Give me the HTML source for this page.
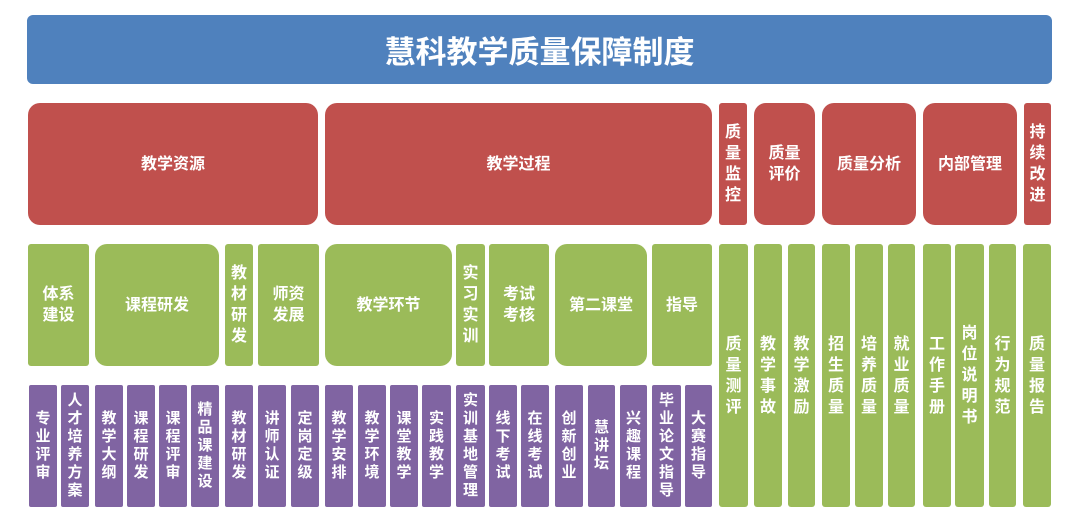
<!DOCTYPE html>
<html><head><meta charset="utf-8"><style>
body{margin:0;width:1080px;height:519px;background:#fff;position:relative;overflow:hidden;font-family:"Liberation Sans","Noto Sans CJK SC",sans-serif;}
.b{position:absolute;color:#fff;font-weight:bold;display:flex;align-items:center;justify-content:center;text-align:center;box-sizing:border-box;}
.r{background:#c0504d;font-size:16px;line-height:21px;border-radius:3px;}
.g{background:#9bbb59;font-size:16px;line-height:21px;border-radius:3px;}
.p{background:#8064a2;font-size:15px;line-height:18px;border-radius:2px;top:385px;height:122px;}
.rr{border-radius:12px;}
</style></head><body>
<div class="b" style="left:27px;top:15px;width:1025px;height:69px;background:#4f81bd;border-radius:6px;font-size:31px;">慧科教学质量保障制度</div>

<div class="b r rr" style="left:28px;top:103px;width:290px;height:122px;">教学资源</div>
<div class="b r rr" style="left:325px;top:103px;width:387px;height:122px;">教学过程</div>
<div class="b r" style="left:719px;top:103px;width:28px;height:122px;">质<br>量<br>监<br>控</div>
<div class="b r rr" style="left:754px;top:103px;width:61px;height:122px;">质量<br>评价</div>
<div class="b r rr" style="left:822px;top:103px;width:94px;height:122px;">质量分析</div>
<div class="b r rr" style="left:923px;top:103px;width:94px;height:122px;">内部管理</div>
<div class="b r" style="left:1024px;top:103px;width:27px;height:122px;">持<br>续<br>改<br>进</div>

<div class="b g" style="left:28px;top:244px;width:61px;height:122px;">体系<br>建设</div>
<div class="b g rr" style="left:95px;top:244px;width:124px;height:122px;">课程研发</div>
<div class="b g" style="left:225px;top:244px;width:28px;height:122px;">教<br>材<br>研<br>发</div>
<div class="b g" style="left:258px;top:244px;width:61px;height:122px;">师资<br>发展</div>
<div class="b g rr" style="left:325px;top:244px;width:127px;height:122px;">教学环节</div>
<div class="b g" style="left:456px;top:244px;width:29px;height:122px;">实<br>习<br>实<br>训</div>
<div class="b g" style="left:489px;top:244px;width:60px;height:122px;">考试<br>考核</div>
<div class="b g rr" style="left:555px;top:244px;width:92px;height:122px;">第二课堂</div>
<div class="b g" style="left:652px;top:244px;width:60px;height:122px;">指导</div>

<div class="b g" style="left:719px;top:244px;width:29px;height:263px;">质<br>量<br>测<br>评</div>
<div class="b g" style="left:754px;top:244px;width:28px;height:263px;">教<br>学<br>事<br>故</div>
<div class="b g" style="left:788px;top:244px;width:27px;height:263px;">教<br>学<br>激<br>励</div>
<div class="b g" style="left:822px;top:244px;width:28px;height:263px;">招<br>生<br>质<br>量</div>
<div class="b g" style="left:855px;top:244px;width:28px;height:263px;">培<br>养<br>质<br>量</div>
<div class="b g" style="left:888px;top:244px;width:27px;height:263px;">就<br>业<br>质<br>量</div>
<div class="b g" style="left:923px;top:244px;width:28px;height:263px;">工<br>作<br>手<br>册</div>
<div class="b g" style="left:955px;top:244px;width:29px;height:263px;">岗<br>位<br>说<br>明<br>书</div>
<div class="b g" style="left:989px;top:244px;width:27px;height:263px;">行<br>为<br>规<br>范</div>
<div class="b g" style="left:1023px;top:244px;width:28px;height:263px;">质<br>量<br>报<br>告</div>

<div class="b p" style="left:29px;width:28px;">专<br>业<br>评<br>审</div>
<div class="b p" style="left:61px;width:28px;">人<br>才<br>培<br>养<br>方<br>案</div>
<div class="b p" style="left:95px;width:28px;">教<br>学<br>大<br>纲</div>
<div class="b p" style="left:127px;width:28px;">课<br>程<br>研<br>发</div>
<div class="b p" style="left:159px;width:28px;">课<br>程<br>评<br>审</div>
<div class="b p" style="left:191px;width:28px;">精<br>品<br>课<br>建<br>设</div>
<div class="b p" style="left:225px;width:28px;">教<br>材<br>研<br>发</div>
<div class="b p" style="left:258px;width:28px;">讲<br>师<br>认<br>证</div>
<div class="b p" style="left:291px;width:28px;">定<br>岗<br>定<br>级</div>
<div class="b p" style="left:325px;width:28px;">教<br>学<br>安<br>排</div>
<div class="b p" style="left:358px;width:28px;">教<br>学<br>环<br>境</div>
<div class="b p" style="left:390px;width:28px;">课<br>堂<br>教<br>学</div>
<div class="b p" style="left:422px;width:29px;">实<br>践<br>教<br>学</div>
<div class="b p" style="left:456px;width:29px;">实<br>训<br>基<br>地<br>管<br>理</div>
<div class="b p" style="left:489px;width:28px;">线<br>下<br>考<br>试</div>
<div class="b p" style="left:521px;width:28px;">在<br>线<br>考<br>试</div>
<div class="b p" style="left:555px;width:28px;">创<br>新<br>创<br>业</div>
<div class="b p" style="left:588px;width:27px;">慧<br>讲<br>坛</div>
<div class="b p" style="left:620px;width:27px;">兴<br>趣<br>课<br>程</div>
<div class="b p" style="left:652px;width:29px;">毕<br>业<br>论<br>文<br>指<br>导</div>
<div class="b p" style="left:685px;width:27px;">大<br>赛<br>指<br>导</div>
</body></html>
